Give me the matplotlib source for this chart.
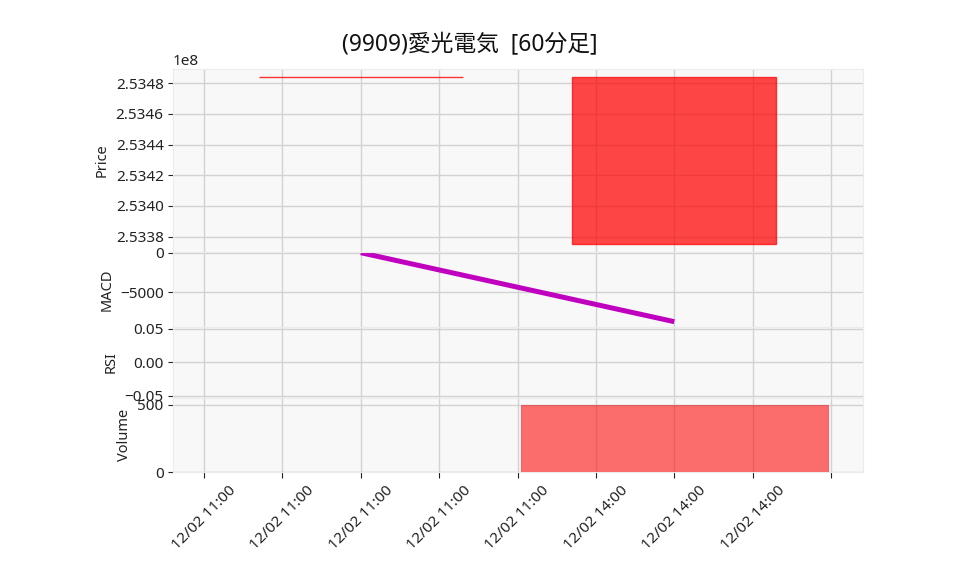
import numpy as np
import matplotlib
matplotlib.use('Agg')
import matplotlib.pyplot as plt
from matplotlib.ticker import FixedLocator, FixedFormatter, ScalarFormatter

plt.rcParams['font.family'] = ['Noto Sans', 'Noto Sans CJK JP', 'DejaVu Sans']
plt.rcParams['axes.unicode_minus'] = True

# ---------------- data ----------------
title = '(9909)愛光電気  [60分足]'
dates = ['12/02 11:00', '12/02 14:00']
opens = [253484100, 253375200]
highs = [253484100, 253484100]
lows = [253484100, 253375200]
closes = [253484100, 253484100]
volumes = [0, 500]
macd = [0, -8710]
rsi = [np.nan, np.nan]
xtick_pos = [-0.5, -0.25, 0.0, 0.25, 0.5, 0.75, 1.0, 1.25, 1.5]
price_ticks = [253380000, 253400000, 253420000, 253440000, 253460000, 253480000]
macd_ticks = [-5000, 0]
rsi_ticks = [-0.05, 0.0, 0.05]
vol_ticks = [0, 500]

# ---------------- style ----------------
W, H = 958, 575
fig = plt.figure(figsize=(W / 100, H / 100), dpi=100)
BG = '#f8f8f8'
GRID = '#d2d2d2'
UP = '#ff0000'
TXT = '#222222'
TICK_FS = 11
LAB_FS = 10.5

left = 172.7 / W
width = (863.3 - 172.7) / W

def box(top_px, bot_px):
    return [left, 1 - bot_px / H, width, (bot_px - top_px) / H]

ax_p = fig.add_axes(box(69, 252))
ax_m = fig.add_axes(box(252, 326.7), sharex=ax_p)
ax_r = fig.add_axes(box(326.7, 397.7), sharex=ax_p)
ax_v = fig.add_axes(box(397.7, 472.3), sharex=ax_p)
axes = [ax_p, ax_m, ax_r, ax_v]

x = np.arange(len(dates))
xtick_labels = []
for p in xtick_pos:
    k = int(round(p))
    xtick_labels.append(dates[k] if 0 <= k < len(dates) else '')

for ax in axes:
    ax.set_facecolor(BG)
    ax.set_axisbelow(True)
    ax.grid(True, color=GRID, linewidth=1.0)
    for s in ax.spines.values():
        s.set_color('#ececec')
        s.set_linewidth(0.8)
    ax.tick_params(axis='y', labelsize=TICK_FS, length=3.5, width=0.8, colors=TXT, pad=3)
    ax.tick_params(axis='x', labelsize=TICK_FS, length=4, width=0.8, colors=TXT)
    ax.xaxis.set_major_locator(FixedLocator(xtick_pos))
    ax.set_xlim(-0.6, 1.603)

for ax in axes[:-1]:
    ax.tick_params(axis='x', which='both', bottom=False, labelbottom=False)

# ---- price panel (candles) ----
cw = 0.65
for i in x:
    o, c = opens[i], closes[i]
    if o == c:
        ax_p.hlines(o, i - cw / 2, i + cw / 2, color=UP, linewidth=1.0, alpha=0.8)
    else:
        ax_p.bar(i, abs(c - o), bottom=min(o, c), width=cw, color=UP, alpha=0.72,
                 edgecolor=UP, linewidth=1.0)
lo, hi = min(lows), max(highs)
pad = (hi - lo) * 0.048
ax_p.set_ylim(lo - pad, hi + pad)
ax_p.yaxis.set_major_locator(FixedLocator(price_ticks))
fmt = ScalarFormatter(useOffset=False)
fmt.set_scientific(True)
fmt.set_powerlimits((-3, 4))
ax_p.yaxis.set_major_formatter(fmt)
ax_p.yaxis.get_offset_text().set_fontsize(TICK_FS)
ax_p.yaxis.get_offset_text().set_color(TXT)
ax_p.set_ylabel('Price', fontsize=LAB_FS, color=TXT)

# ---- MACD panel ----
ax_m.plot(x, macd, color='#bf00bf', linewidth=3.6, solid_capstyle='butt')
ax_m.set_ylim(-9343, 88)
ax_m.yaxis.set_major_locator(FixedLocator(macd_ticks))
ax_m.set_ylabel('MACD', fontsize=LAB_FS, color=TXT)

# ---- RSI panel ----
ax_r.plot(x, rsi, color='#1f77b4')
ax_r.set_ylim(-0.0527, 0.0527)
ax_r.yaxis.set_major_locator(FixedLocator(rsi_ticks))
ax_r.yaxis.set_major_formatter(FixedFormatter(['\u22120.05', '0.00', '0.05']))
ax_r.set_ylabel('RSI', fontsize=LAB_FS, color=TXT)

# ---- Volume panel ----
ax_v.bar(x, volumes, width=0.98, color=UP, alpha=0.56, edgecolor='#e03030', linewidth=0.8)
ax_v.set_ylim(0, 554)
ax_v.yaxis.set_major_locator(FixedLocator(vol_ticks))
ax_v.set_ylabel('Volume', fontsize=LAB_FS, color=TXT)
ax_v.xaxis.set_major_formatter(FixedFormatter(xtick_labels))
plt.setp(ax_v.get_xticklabels(), rotation=45)

fig.text(469.5 / W, 1 - 45 / H, title, ha='center', va='center', fontsize=16.4, color='#111111')

fig.savefig('out.png', dpi=100)
